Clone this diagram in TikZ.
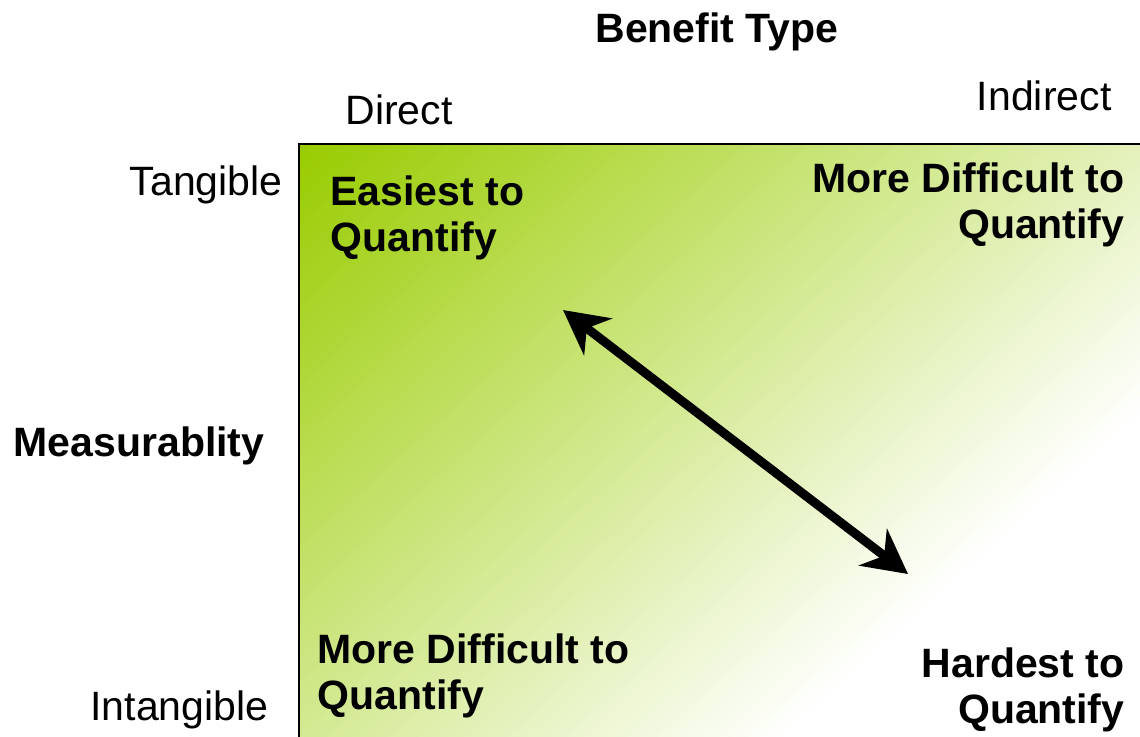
\documentclass[tikz,border=0pt]{standalone}
\usepackage{fontspec}
\setmainfont{Liberation Sans}
\usetikzlibrary{arrows.meta}
\definecolor{lgreen}{RGB}{153,204,0}
\begin{document}
\begin{tikzpicture}[x=0.5pt,y=-0.5pt,semithick,
  txt/.style={font=\fontsize{20.5}{23}\selectfont,inner sep=0pt},
  btxt/.style={font=\fontsize{20.5}{23}\selectfont\bfseries,inner sep=0pt},
  >={Stealth[length=22pt,width=23pt,inset=7pt]}]
\useasboundingbox(0,0)rectangle(1140,736);
\clip(0,0)rectangle(1140,736);
\coordinate(O)at(299,144);
\coordinate(P)at(1160,760);
\begin{scope}
\clip(O)rectangle(P);
\begin{scope}[shift={(O)},rotate=-48]
\fill[lgreen](-300,-1200)rectangle(1,1200);
\foreach \i in {0,...,75}{
  \pgfmathsetmacro\p{100-\i*100/76}
  \fill[lgreen!\p!white](\i*10,-1200)rectangle(\i*10+11,1200);
}
\end{scope}
\end{scope}
\draw[line width=0.8pt](O|-P)--(O)--(O-|P);
\node[btxt,anchor=base](T)at(717,42){Benefit Type};
\node[txt,anchor=base west](D)at(345,124){Direct};
\node[txt,anchor=base east](I)at(1112,110){Indirect};
\node[txt,anchor=base east](Ta)at(283,195){Tangible};
\node[txt,anchor=base east](In)at(269,720){Intangible};
\node[btxt,anchor=base east](M)at(265,456){Measurablity};
\node[btxt,anchor=base west,align=left](E)at(330,251){Easiest to\\Quantify};
\node[btxt,anchor=base east,align=right](F)at(1125,238){More Difficult to\\Quantify};
\node[btxt,anchor=base west,align=left](G)at(317,709){More Difficult to\\Quantify};
\node[btxt,anchor=base east,align=right](H)at(1125,723){Hardest to\\Quantify};
\coordinate(A)at(563,310);
\coordinate(B)at(908,574);
\draw[line width=4.5pt,<->](A)--(B);
\end{tikzpicture}
\end{document}
